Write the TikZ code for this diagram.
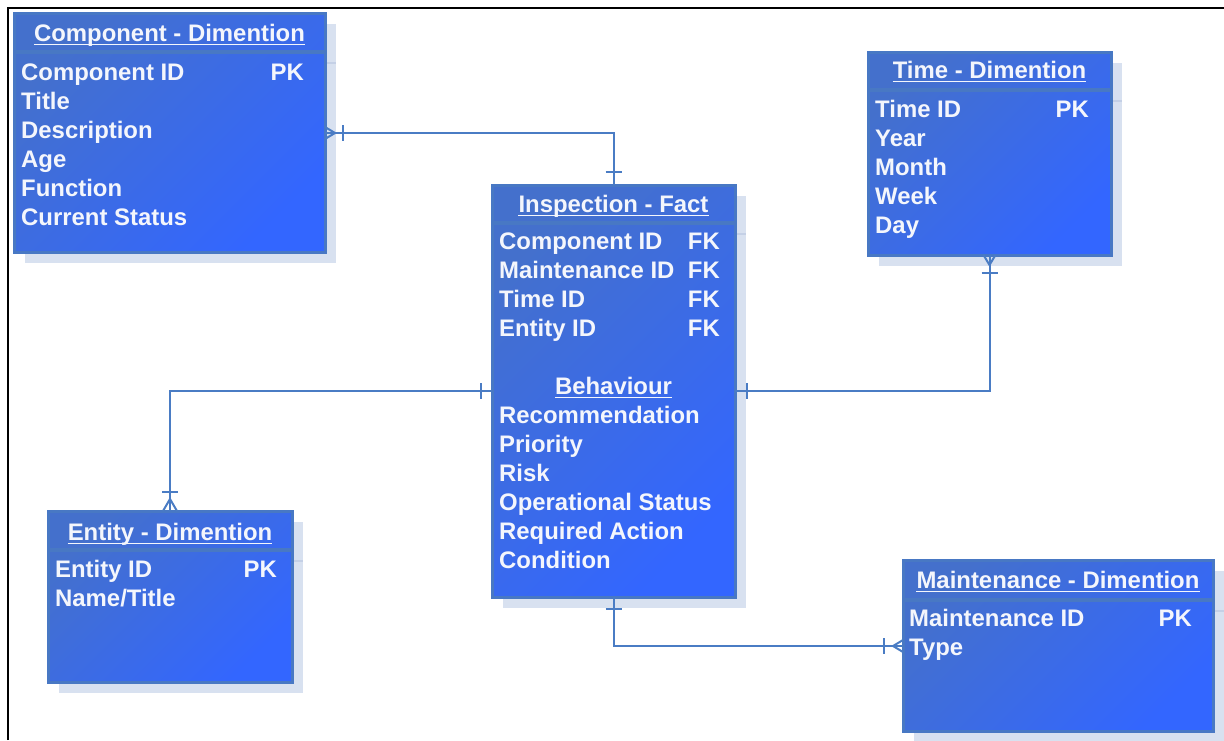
\documentclass[tikz,border=0pt]{standalone}
\usepackage{fontspec}
\setmainfont{Liberation Sans}
\usetikzlibrary{calc}
\definecolor{boxtop}{RGB}{68,112,204}
\definecolor{boxbot}{RGB}{51,102,255}
\definecolor{edgec}{RGB}{72,120,196}
\definecolor{shad}{RGB}{216,225,240}
\definecolor{shadline}{RGB}{196,208,230}
\definecolor{conncol}{RGB}{74,124,196}
\definecolor{txt}{RGB}{244,246,252}
\newcommand\erfnt{\fontsize{23.9}{28}\selectfont\bfseries}
\tikzset{
  erbox/.style={shade, shading=axis, top color=boxtop, bottom color=boxbot, shading angle=45,
                draw=edgec, line width=3pt, inner sep=0pt, outer sep=0pt, rectangle},
  sepl/.style={draw=edgec, line width=4pt},
  rowt/.style={anchor=base west, inner sep=0pt, text=txt, font=\erfnt},
  keyt/.style={anchor=base east, inner sep=0pt, text=txt, font=\erfnt},
  headt/.style={anchor=base, inner sep=0pt, text=txt, font=\erfnt},
  uline/.style={draw=txt, line width=1.5pt},
  conn/.style={draw=conncol, line width=2pt},
}
\newcommand\ERbox[6]{%
  \fill[shad] (#2+11,#3+11) rectangle ++(#4,#5);
  \draw[shadline, line width=2pt] (#2+#4, #3+#6+11) -- ++(11,0);
  \node[erbox, minimum width=#4pt, minimum height=#5pt, anchor=north west] (#1) at (#2,#3) {};
  \draw[sepl] ($(#1.north west)+(0,#6)$) -- ($(#1.north east)+(0,#6)$);
}
\newcommand\ERhead[4]{%
  \node[headt] (#1) at (#2,#3) {#4};
  \draw[uline] ($(#1.base west)+(0,3.5)$) -- ($(#1.base east)+(0,3.5)$);
}
\begin{document}
\begin{tikzpicture}[x=1pt, y=-1pt]
\useasboundingbox (0,0) rectangle (1224,740);
\draw[line width=2.5pt] (8,740) -- (8,8) -- (1224,8);

% boxes
\ERbox{comp}{14}{13}{311}{239}{39}
\ERbox{insp}{492}{185}{243}{412}{38}
\ERbox{time}{868}{52}{243}{203}{38}
\ERbox{ent}{48}{511}{244}{171}{39}
\ERbox{maint}{903}{560}{310}{171}{40}

% Component
\ERhead{hcomp}{169.5}{41}{Component - Dimention}
\node[rowt] (c1) at (21,80) {Component ID};
\node[keyt] (c1k) at (304,80) {PK};
\node[rowt] (c2) at (21,109) {Title};
\node[rowt] (c3) at (21,138) {Description};
\node[rowt] (c4) at (21,167) {Age};
\node[rowt] (c5) at (21,196) {Function};
\node[rowt] (c6) at (21,225) {Current Status};

% Inspection
\ERhead{hinsp}{613.5}{212}{Inspection - Fact}
\node[rowt] (i1) at (499,249) {Component ID};
\node[keyt] (i1k) at (720,249) {FK};
\node[rowt] (i2) at (499,278) {Maintenance ID};
\node[keyt] (i2k) at (720,278) {FK};
\node[rowt] (i3) at (499,307) {Time ID};
\node[keyt] (i3k) at (720,307) {FK};
\node[rowt] (i4) at (499,336) {Entity ID};
\node[keyt] (i4k) at (720,336) {FK};
\ERhead{hbeh}{613.5}{394}{Behaviour}
\node[rowt] (i6) at (499,423) {Recommendation};
\node[rowt] (i7) at (499,452) {Priority};
\node[rowt] (i8) at (499,481) {Risk};
\node[rowt] (i9) at (499,510) {Operational Status};
\node[rowt] (i10) at (499,539) {Required Action};
\node[rowt] (i11) at (499,568) {Condition};

% Time
\ERhead{htime}{989.5}{78}{Time - Dimention}
\node[rowt] (t1) at (875,117) {Time ID};
\node[keyt] (t1k) at (1089,117) {PK};
\node[rowt] (t2) at (875,146) {Year};
\node[rowt] (t3) at (875,175) {Month};
\node[rowt] (t4) at (875,204) {Week};
\node[rowt] (t5) at (875,233) {Day};

% Entity
\ERhead{hent}{170}{540}{Entity - Dimention}
\node[rowt] (e1) at (55,577) {Entity ID};
\node[keyt] (e1k) at (277,577) {PK};
\node[rowt] (e2) at (55,606) {Name/Title};

% Maintenance
\ERhead{hmaint}{1058}{588}{Maintenance - Dimention}
\node[rowt] (m1) at (909,626) {Maintenance ID};
\node[keyt] (m1k) at (1192,626) {PK};
\node[rowt] (m2) at (909,655) {Type};

% connector end points
\coordinate (p1) at (comp.east |- 0,133);
\coordinate (p2) at (insp.north);
\coordinate (p3) at (insp.east |- 0,391);
\coordinate (p4) at (time.south);
\coordinate (p5) at (insp.west |- 0,391);
\coordinate (p6) at (ent.north);
\coordinate (p7) at (insp.south);
\coordinate (p8) at (maint.west |- 0,646);

% connectors
\draw[conn] (p1) -| (p2);
\draw[conn] (p3) -| (p4);
\draw[conn] (p5) -| (p6);
\draw[conn] (p7) |- (p8);

% marks: component end (many, mandatory)
\draw[conn] ($(p1)+(0,-6)$) -- ($(p1)+(10,0)$) -- ($(p1)+(0,6)$);
\draw[conn] ($(p1)+(18,-8)$) -- ($(p1)+(18,8)$);
% inspection top (one)
\draw[conn] ($(p2)+(-8,-13)$) -- ($(p2)+(8,-13)$);
% inspection right (one)
\draw[conn] ($(p3)+(12,-8)$) -- ($(p3)+(12,8)$);
% time end
\draw[conn] ($(p4)+(-6,0)$) -- ($(p4)+(0,10)$) -- ($(p4)+(6,0)$);
\draw[conn] ($(p4)+(-8,18)$) -- ($(p4)+(8,18)$);
% inspection left (one)
\draw[conn] ($(p5)+(-11,-8)$) -- ($(p5)+(-11,8)$);
% entity end
\draw[conn] ($(p6)+(-7,0)$) -- ($(p6)+(0,-12)$) -- ($(p6)+(7,0)$);
\draw[conn] ($(p6)+(-8,-19)$) -- ($(p6)+(8,-19)$);
% inspection bottom (one)
\draw[conn] ($(p7)+(-8,12)$) -- ($(p7)+(8,12)$);
% maintenance end
\draw[conn] ($(p8)+(0,-6)$) -- ($(p8)+(-10,0)$) -- ($(p8)+(0,6)$);
\draw[conn] ($(p8)+(-19,-8)$) -- ($(p8)+(-19,8)$);
\end{tikzpicture}
\end{document}
